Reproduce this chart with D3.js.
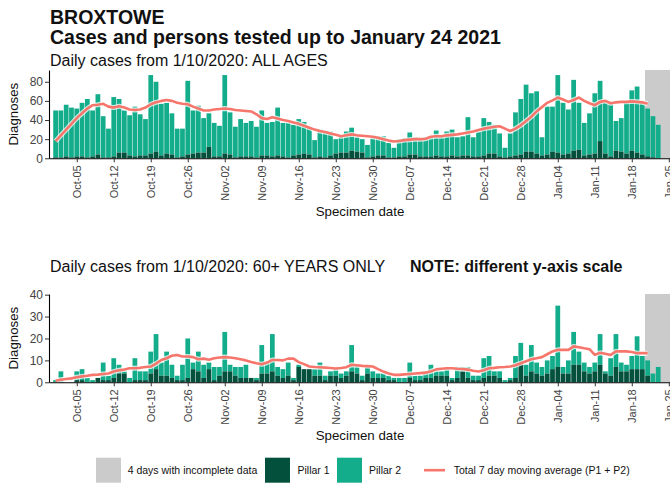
<!DOCTYPE html>
<html><head><meta charset="utf-8">
<script src="https://cdn.jsdelivr.net/npm/d3@7"></script>
<style>
body{margin:0;background:#fff}
text{font-family:"Liberation Sans",Arial,Helvetica,sans-serif}
</style>
</head><body>
<svg id="chart" width="670" height="485"></svg>
<script>
// ---------------- DATA ----------------
const startDate = "2020-10-01";
const endDate = "2021-01-24";
const incompleteFrom = "2021-01-21";

// All ages: total daily cases (P1 + P2) and Pillar 1 part
const allTotal = [50,50,56,53,52,58,62,50,67,44,31,64,62,50,45,54,46,41,87,80,57,58,47,31,31,81,50,55,42,47,37,34,
  87,48,33,41,37,39,33,50,37,38,53,37,37,35,41,38,33,19,30,28,28,20,23,28,32,22,20,14,21,23,23,16,11,20,21,27,22,21,22,23,29,23,
  28,30,22,23,43,22,28,42,38,35,26,11,26,48,62,77,68,70,22,54,54,87,58,51,82,58,37,47,68,81,58,57,39,42,58,71,75,58,52,44,35,0];
const allP1 = [1,1,2,1,2,2,1,2,4,1,1,2,6,6,3,2,3,3,5,7,3,5,4,1,2,4,5,6,6,12,2,2,
  5,4,1,2,2,2,1,3,3,2,3,2,1,3,4,5,4,1,2,1,3,5,6,6,8,7,6,1,2,3,3,1,1,2,2,4,4,2,2,2,3,2,
  2,3,2,3,3,2,2,3,5,5,2,1,2,3,4,7,7,5,3,4,7,6,4,5,8,9,3,4,5,18,5,2,8,7,5,8,6,4,2,1,0,0];
const allMA = [18,24,30,36,42,47,52,55.5,56,57,54,53,54.5,53,51,50.5,51,53,56.5,58.5,
  60,61,60,58,57,56.5,54,52,50,50,51,51.5,52,51.5,50.5,50,49.5,49,46,42,
  41,43,41.5,40,39,37.5,36,34,32,30,28.5,27.5,26,24.5,23,24,25,24,23.5,23,
  22.5,21.5,20,18.5,17.5,18,19,19.5,20,20,20.5,22.5,23,23,24,24.5,25,26,27,28,
  29.5,31,32,33,33.5,31,28.5,31,34.5,39,43.5,49,53.5,58,60.5,63.5,61.5,59,61,63.5,
  60,57.5,55.5,59,60,57.5,58.5,59,59,59.5,59,58.5,57];

// 60+ years only
const oldTotal = [1,5,0,0,5,6,2,1,2,9,3,11,8,5,2,11,5,5,14,22,9,14,8,3,8,20,9,14,8,9,7,7,23,
  8,7,7,8,2,2,17,9,22,7,6,9,2,8,6,6,6,9,3,5,6,4,5,17,8,3,7,5,4,4,3,2,2,2,9,3,3,5,8,5,5,6,
  2,7,7,7,3,3,11,12,5,5,1,2,12,18,8,17,9,7,10,12,35,7,10,23,14,9,7,9,22,5,11,22,9,8,12,21,12,10,4,7,0];
const oldP1 = [0,0,0,0,1,1,0,0,2,1,1,2,4,4,0,1,1,1,4,6,3,3,2,1,1,2,6,5,2,6,1,3,5,
  5,3,2,2,2,1,4,4,5,3,2,3,1,7,6,6,3,3,1,3,3,2,3,5,4,1,4,2,2,2,1,1,0,0,2,1,1,2,2,3,3,3,
  1,2,5,2,1,1,2,3,3,2,0,1,2,8,3,5,4,3,4,6,7,4,4,8,8,5,4,5,8,4,3,7,5,5,6,6,6,3,0,0,0];
const oldMA = [0.7,1.2,1.5,1.8,2.3,2.7,3.0,3.4,3.5,3.8,4.0,4.9,5.5,5.8,6.4,6.4,6.6,7.0,7.2,8.5,
  10.2,11,12.1,12.5,11.8,11.8,11.5,10.5,10.8,10.3,11,11.3,11.5,11.3,11,10.5,10,9.3,8.7,8.2,
  9,10.2,10.2,10,10.8,10.8,9.2,8.3,7.2,7,6.9,6.7,6.5,6.3,6.5,6.9,8,7.8,7.5,7.4,
  7.2,6,4.9,4,3.4,3.4,3.6,3.8,4,4.2,4.4,5,5.9,6.2,6.4,6.4,6.2,6.1,5.8,5.3,
  4.9,5.5,6.4,6.6,6.9,7,7.2,7.8,8.7,9.6,10.5,11,11.5,12.8,14.1,14.8,14.8,14.8,16.4,16,
  15.5,15.1,12.5,13.5,13,12.5,14.1,14.1,14.1,13.8,13.3,13.3,13.3];

const yTicksAll = [0,20,40,60,80];
const yTicksOld = [0,10,20,30,40];
const titleLines = ["BROXTOWE", "Cases and persons tested up to January 24 2021"];
const legendLabels = ["4 days with incomplete data", "Pillar 1", "Pillar 2", "Total 7 day moving average (P1 + P2)"];

// ---------------- STYLE ----------------
const C_P1 = "#03513d", C_P2 = "#14ad8b", C_GREY = "#cbcbcb", C_MA = "#f7766c";

const svg = d3.select("#chart");
svg.append("rect").attr("width",670).attr("height",485).attr("fill","#fff");

const dates = d3.utcDay.range(new Date(startDate), d3.utcDay.offset(new Date(endDate), 1));
const DAY = 864e5;

const x = d3.scaleUtc()
  .domain([new Date(Date.parse(startDate) - 1.25*DAY), new Date(Date.parse(endDate) + 1.4167*DAY)])
  .range([49, 671]);
const step = x(dates[1]) - x(dates[0]);
const bw = step * 0.9;
const weekTicks = d3.utcMonday.range(new Date(startDate), new Date(Date.parse(endDate) + 2*DAY));
const fmt = d3.utcFormat("%b-%d");

// Titles
svg.append("text").attr("x",50).attr("y",24).attr("font-size",19.5).attr("font-weight","bold").attr("fill","#111").text(titleLines[0]);
svg.append("text").attr("x",50).attr("y",43.5).attr("font-size",19.5).attr("font-weight","bold").attr("fill","#111").text(titleLines[1]);

function panel(cfg) {
  const g = svg.append("g");
  const y = d3.scaleLinear().domain([0, cfg.yMax]).range([cfg.y0, cfg.yTop]);

  g.append("text").attr("x",50).attr("y",cfg.subY).attr("font-size",16).attr("fill","#111").text(cfg.sub);
  if (cfg.note) g.append("text").attr("x",410).attr("y",cfg.subY).attr("font-size",16).attr("font-weight","bold").attr("fill","#111").text(cfg.note);

  // incomplete data
  g.append("rect")
    .attr("x", x(new Date(Date.parse(incompleteFrom) - 0.5*DAY)))
    .attr("width", x.range()[1] - x(new Date(Date.parse(incompleteFrom) - 0.5*DAY)))
    .attr("y", cfg.yTop).attr("height", cfg.y0 - cfg.yTop).attr("fill", C_GREY);

  const rows = dates.map((d,i) => ({d, p1: cfg.p1[i], p2: cfg.total[i] - cfg.p1[i]}));
  // Pillar 2 stacked on Pillar 1
  g.append("g").selectAll("rect").data(rows).join("rect")
    .attr("x", r => x(r.d) - bw/2).attr("width", bw)
    .attr("y", r => y(r.p1 + r.p2)).attr("height", r => y(r.p1) - y(r.p1 + r.p2))
    .attr("fill", C_P2);
  g.append("g").selectAll("rect").data(rows).join("rect")
    .attr("x", r => x(r.d) - bw/2).attr("width", bw)
    .attr("y", r => y(r.p1)).attr("height", r => y(0) - y(r.p1))
    .attr("fill", C_P1);

  const line = d3.line().x((v,i) => x(dates[i])).y(v => y(v)).curve(d3.curveLinear);
  g.append("path").attr("d", line(cfg.ma)).attr("fill","none").attr("stroke","#fff").attr("stroke-opacity",0.75)
    .attr("stroke-width",5).attr("stroke-linejoin","round");
  g.append("path").attr("d", line(cfg.ma)).attr("fill","none").attr("stroke",C_MA)
    .attr("stroke-width",2.6).attr("stroke-linejoin","round");

  // axes
  const ax = g.append("g").attr("transform",`translate(0,${cfg.y0})`)
    .call(d3.axisBottom(x).tickValues(weekTicks).tickFormat(fmt).tickSize(4).tickSizeOuter(0).tickPadding(3));
  ax.select(".domain").attr("stroke","#000").attr("stroke-width",1.1);
  ax.selectAll(".tick line").attr("stroke","#333");
  ax.selectAll("text").attr("font-size",11).attr("fill","#444")
    .attr("text-anchor","end").attr("transform","rotate(-90)")
    .attr("x",-7).attr("y",0).attr("dy","0.35em");

  const ay = g.append("g").attr("transform","translate(49,0)")
    .call(d3.axisLeft(y).tickValues(cfg.yTicks).tickSize(4).tickSizeOuter(0).tickPadding(2));
  ay.select(".domain").attr("stroke","#000").attr("stroke-width",1.1);
  ay.selectAll(".tick line").attr("stroke","#333");
  ay.selectAll("text").attr("font-size",12).attr("fill","#444");

  g.append("text").attr("transform",`translate(18,${(cfg.y0+cfg.yTop)/2}) rotate(-90)`)
    .attr("text-anchor","middle").attr("font-size",13.3).attr("fill","#111").text("Diagnoses");
  g.append("text").attr("x",360).attr("y",cfg.y0+57.5).attr("text-anchor","middle")
    .attr("font-size",13.3).attr("fill","#111").text("Specimen date");
}

panel({total: allTotal, p1: allP1, ma: allMA, yMax: 92.3, yTicks: yTicksAll,
  yTop: 70, y0: 158.3, subY: 65.5, sub: "Daily cases from 1/10/2020: ALL AGES"});
panel({total: oldTotal, p1: oldP1, ma: oldMA, yMax: 40.3, yTicks: yTicksOld,
  yTop: 294, y0: 382.3, subY: 271.5, sub: "Daily cases from 1/10/2020: 60+ YEARS ONLY",
  note: "NOTE: different y-axis scale"});

// Legend
const lg = svg.append("g");
const ly = 457.7, ls = 25;
lg.append("rect").attr("x",96).attr("y",ly).attr("width",ls).attr("height",ls).attr("fill",C_GREY);
lg.append("rect").attr("x",265).attr("y",ly).attr("width",ls).attr("height",ls).attr("fill",C_P1);
lg.append("rect").attr("x",337).attr("y",ly).attr("width",ls).attr("height",ls).attr("fill",C_P2);
lg.append("line").attr("x1",424).attr("x2",445).attr("y1",ly+ls/2).attr("y2",ly+ls/2).attr("stroke",C_MA).attr("stroke-width",2.6);
[[127.7,0],[297.5,1],[369,2],[453.7,3]].forEach(([lx,i]) => {
  lg.append("text").attr("x",lx).attr("y",ly+ls/2).attr("dy","0.35em").attr("font-size",10.5).attr("fill","#111").text(legendLabels[i]);
});
</script>
</body></html>
